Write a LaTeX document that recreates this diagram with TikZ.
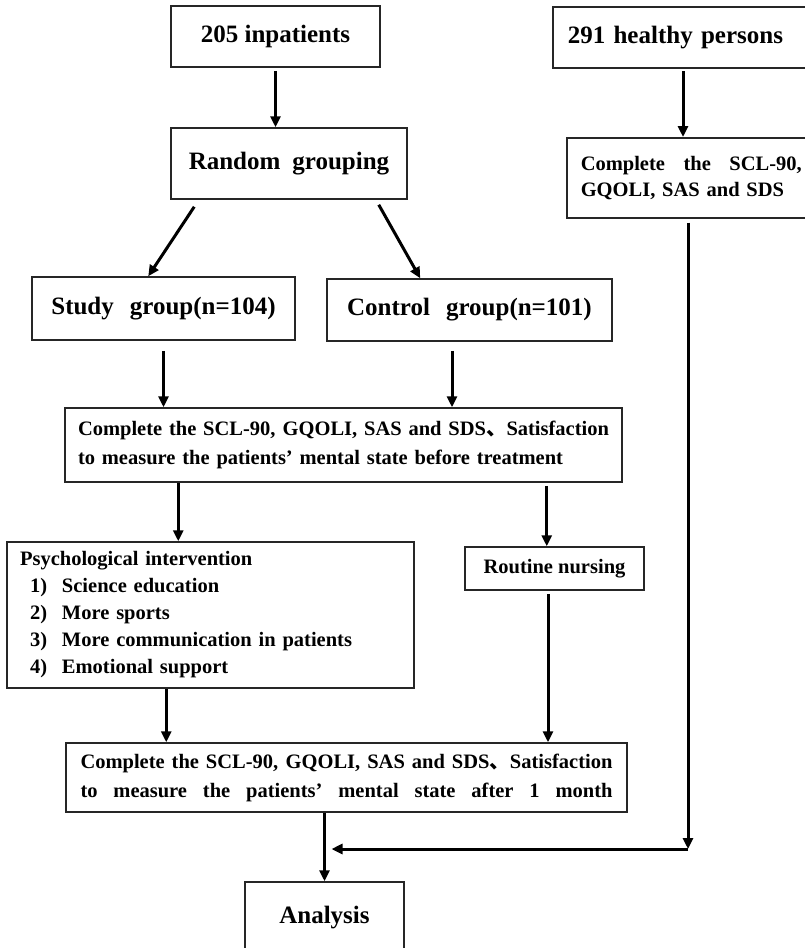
\documentclass[tikz,border=0pt]{standalone}
\usepackage{fontspec}
\setmainfont{Liberation Serif}
\newfontfamily\cjk{Noto Sans CJK SC}
\usetikzlibrary{arrows.meta}
\newcommand{\boxbig}{\fontsize{25}{30}\selectfont}
\newcommand{\boxsmall}{\fontsize{20.5}{29}\selectfont}
\newcommand{\spreadline}[2]{\hbox to #1{\spaceskip=0.25em plus 1fil\relax #2}}
\tikzset{
    box/.style={draw=black!85, line width=1.5pt, inner sep=0pt, font=\bfseries},
    flow/.style={line width=3pt, -{Triangle[length=11pt,width=10pt]}}
}

\begin{document}
\begin{tikzpicture}[x=1pt, y=-1pt]
        \useasboundingbox (0,0) rectangle (805,948);

        \node[box, minimum width=209pt, minimum height=61pt, font=\bfseries\boxbig] (inp) at (275.5,36.5) {205 inpatients};
        \node[box, anchor=west, text width=300pt, inner xsep=15pt, minimum height=61pt, align=left, font=\bfseries\boxbig] (hlt) at (552,37.5) {291 healthy persons};
        \node[box, minimum width=236pt, minimum height=71pt, font=\bfseries\boxbig] (rg) at (289,163.5) {Random\hspace{12pt}grouping};
        \node[box, anchor=north west, text width=221pt, inner xsep=14pt, minimum height=80pt, align=left, font=\bfseries\fontsize{20.5}{26}\selectfont] (hc) at (566,137)
                {\spreadline{221pt}{Complete the SCL-90,}\\GQOLI, SAS and SDS};
        \node[box, minimum width=263pt, minimum height=63pt, font=\bfseries\boxbig] (study) at (163.5,308.5) {Study\hspace{16pt}group(n=104)};
        \node[box, minimum width=285pt, minimum height=62pt, font=\bfseries\boxbig] (ctrl) at (469.5,310) {Control\hspace{16pt}group(n=101)};
        \node[box, text width=531pt, inner xsep=13pt, minimum height=74pt, align=left, font=\bfseries\boxsmall] (c1) at (343.5,445)
                {\spreadline{531pt}{Complete the SCL-90, GQOLI, SAS and SDS{\cjk 、}Satisfaction}\\
                to measure the patients’ mental state before treatment};
        \node[box, text width=381pt, inner xsep=13pt, minimum height=146pt, align=left, font=\bfseries\fontsize{20.5}{27}\selectfont] (psy) at (210.5,615)
                {Psychological intervention\\
                \hspace*{10pt}\makebox[32pt][l]{1)}Science education\\
                \hspace*{10pt}\makebox[32pt][l]{2)}More sports\\
                \hspace*{10pt}\makebox[32pt][l]{3)}More communication in patients\\
                \hspace*{10pt}\makebox[32pt][l]{4)}Emotional support};
        \node[box, minimum width=179pt, minimum height=43pt, font=\bfseries\boxsmall] (rout) at (554.5,568.5) {Routine nursing};
        \node[box, text width=532pt, inner xsep=14.5pt, minimum height=69pt, align=left, font=\bfseries\boxsmall] (c2) at (346.5,777.5)
                {\spreadline{532pt}{Complete the SCL-90, GQOLI, SAS and SDS{\cjk 、}Satisfaction}\\
                \spreadline{532pt}{to measure the patients’ mental state after 1 month}};
        \node[box, minimum width=159pt, minimum height=72pt, font=\bfseries\boxbig] (ana) at (324.5,918) {Analysis};

        \coordinate (inpout) at ([yshift=-3pt]inp.south);
        \coordinate (hltout) at ([xshift=131pt,yshift=-2.5pt]hlt.south west);
        \coordinate (studyout) at ([yshift=-10pt]study.south);
        \coordinate (ctrlout) at ([xshift=-17.5pt,yshift=-9pt]ctrl.south);
        \coordinate (c1left) at ([xshift=114pt]c1.south west);
        \coordinate (c1right) at ([xshift=-76pt,yshift=-3pt]c1.south east);
        \coordinate (psyout) at ([xshift=160pt]psy.south west);
        \coordinate (routout) at ([xshift=-6.5pt,yshift=-3pt]rout.south);
        \coordinate (hcout) at ([xshift=122pt,yshift=-4pt]hc.south west);
        \coordinate (join) at (688,849);
        \coordinate (meet) at (join -| ana.north);

        \draw[flow] (inpout) -- (inpout |- rg.north);
        \draw[flow] (hltout) -- (hltout |- hc.north);
        \draw[flow] ([xshift=24pt,yshift=-7pt]rg.south west) -- ([xshift=117pt]study.north west);
        \draw[flow] ([xshift=-29pt,yshift=-5pt]rg.south east) -- ([xshift=94pt]ctrl.north west);
        \draw[flow] (studyout) -- (studyout |- c1.north);
        \draw[flow] (ctrlout) -- (ctrlout |- c1.north);
        \draw[flow] (c1left) -- (c1left |- psy.north);
        \draw[flow] (c1right) -- (c1right |- rout.north);
        \draw[flow] (psyout) -- (psyout |- c2.north);
        \draw[flow] (routout) -- (routout |- c2.north);
        \draw[flow] (hcout) -- (join);
        \draw[flow] (join) -- ([xshift=7pt]meet);
        \draw[flow] (c2.south -| ana.north) -- (ana.north);
\end{tikzpicture}
\end{document}
